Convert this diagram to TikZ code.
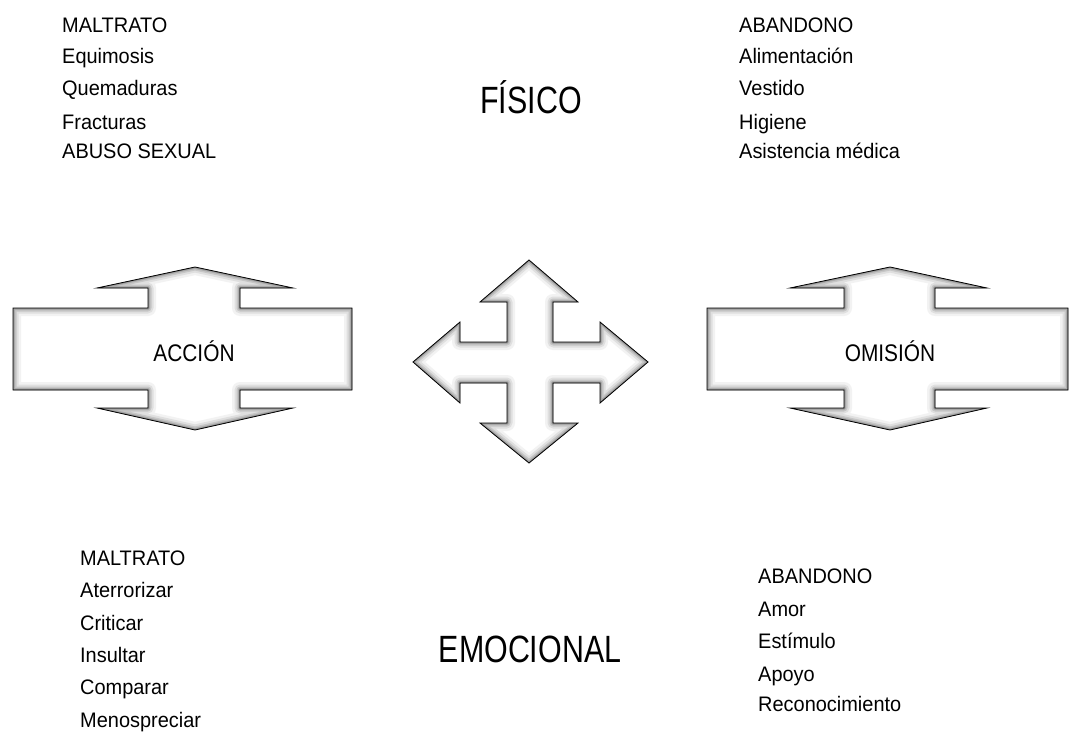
\documentclass[tikz,border=0pt]{standalone}
\usepackage{fontspec}
\setmainfont[FakeStretch=0.95]{Liberation Sans}
\newfontfamily\bigf[FakeStretch=0.8]{Liberation Sans}
\newfontfamily\midf[FakeStretch=0.87]{Liberation Sans}
\newcommand\bevelshape[1]{%
  \fill[white] #1;
  \begin{scope}
    \clip #1;
    \draw[line width=16pt, gray!10, line join=round] #1;
    \draw[line width=11pt, gray!25, line join=round] #1;
    \draw[line width=7pt, gray!45, line join=round] #1;
    \draw[line width=4pt, gray!65, line join=round] #1;
    \draw[line width=2pt, gray!85, line join=round] #1;
  \end{scope}
  \draw[line width=0.8pt, black] #1;
}
\tikzset{
  item/.style={anchor=base west, inner sep=0pt, font=\fontsize{21}{25}\selectfont},
  big/.style={inner sep=0pt, font=\bigf\fontsize{38}{44}\selectfont},
  mid/.style={inner sep=0pt, font=\midf\fontsize{24}{28}\selectfont}
}
\begin{document}
\begin{tikzpicture}[x=1pt,y=-1pt]
\useasboundingbox (0,0) rectangle (1070,733);
\fill[white] (0,0) rectangle (1070,733);

% left double arrow (ACCION)
\bevelshape{(195,267) -- (293,288) -- (240,288) -- (240,308) -- (352,308) -- (352,390) -- (240,390) -- (240,408) -- (293,408) -- (195,430) -- (97,408) -- (148,408) -- (148,390) -- (13,390) -- (13,308) -- (148,308) -- (148,288) -- (97,288) -- cycle}
% right double arrow (OMISION)
\bevelshape{(890,267) -- (987,288) -- (935,288) -- (935,308) -- (1068,308) -- (1068,390) -- (935,390) -- (935,408) -- (987,408) -- (890,430) -- (790,408) -- (844,408) -- (844,390) -- (707,390) -- (707,308) -- (844,308) -- (844,288) -- (790,288) -- cycle}
% central four-way arrow
\bevelshape{(529,260) -- (578,302) -- (553,302) -- (553,342) -- (600,342) -- (600,322) -- (648,362) -- (600,403) -- (600,383) -- (553,383) -- (553,423) -- (578,423) -- (529,463) -- (480,423) -- (507,423) -- (507,383) -- (460,383) -- (460,403) -- (413,362) -- (460,322) -- (460,342) -- (507,342) -- (507,302) -- (480,302) -- cycle}

\node[mid] (accion) at (194,351) {ACCIÓN};
\node[mid] (omision) at (890,351) {OMISIÓN};

\node[big] (fisico) at (531,97) {FÍSICO};
\node[big] (emocional) at (530,649) {EMOCIONAL};

% top left
\node[item] (tl1) at (62,33) {MALTRATO};
\node[item] (tl2) at (62,64) {Equimosis};
\node[item] (tl3) at (62,96) {Quemaduras};
\node[item] (tl4) at (62,129) {Fracturas};
\node[item] (tl5) at (62,158) {ABUSO SEXUAL};

% top right
\node[item] (tr1) at (739,33) {ABANDONO};
\node[item] (tr2) at (739,64) {Alimentación};
\node[item] (tr3) at (739,96) {Vestido};
\node[item] (tr4) at (739,129) {Higiene};
\node[item] (tr5) at (739,158) {Asistencia médica};

% bottom left
\node[item] (bl1) at (80,565) {MALTRATO};
\node[item] (bl2) at (80,597) {Aterrorizar};
\node[item] (bl3) at (80,630) {Criticar};
\node[item] (bl4) at (80,662) {Insultar};
\node[item] (bl5) at (80,694) {Comparar};
\node[item] (bl6) at (80,727) {Menospreciar};

% bottom right
\node[item] (br1) at (758,583) {ABANDONO};
\node[item] (br2) at (758,616) {Amor};
\node[item] (br3) at (758,648) {Estímulo};
\node[item] (br4) at (758,681) {Apoyo};
\node[item] (br5) at (758,711) {Reconocimiento};
\end{tikzpicture}
\end{document}
